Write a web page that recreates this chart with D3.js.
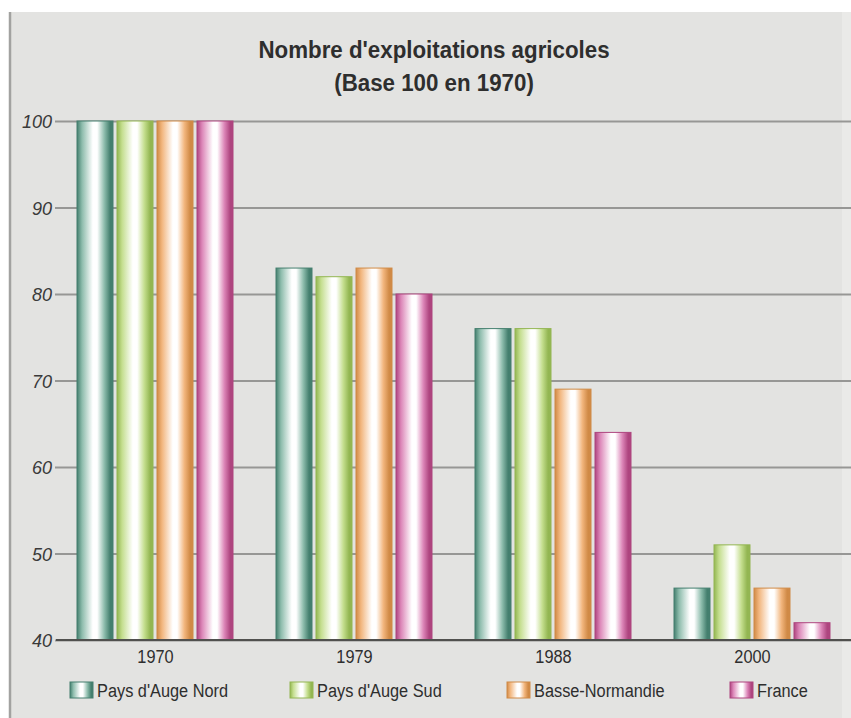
<!DOCTYPE html>
<html>
<head>
<meta charset="utf-8">
<script src="https://cdn.jsdelivr.net/npm/d3@7"></script>
<style>
  html, body { margin: 0; padding: 0; background: #ffffff; }
  svg { display: block; }
  text { font-family: "Liberation Sans", Arial, Helvetica, sans-serif; }
</style>
</head>
<body>
<svg id="chart" width="851" height="718"></svg>
<script>
// Nombre d'exploitations agricoles, base 100 en 1970
const years = ["1970", "1979", "1988", "2000"];
const seriesNames = ["Pays d'Auge Nord", "Pays d'Auge Sud", "Basse-Normandie", "France"];
const paysAugeNord = [100, 83, 76, 46];
const paysAugeSud = [100, 82, 76, 51];
const basseNormandie = [100, 83, 69, 46];
const france = [100, 80, 64, 42];
const yTicks = [40, 50, 60, 70, 80, 90, 100];

const seriesValues = [paysAugeNord, paysAugeSud, basseNormandie, france];
// dark edge / mid tone per series
const palette = [
  { dark: "#447f6e", mid: "#8dbcac" },
  { dark: "#93b652", mid: "#c4de8e" },
  { dark: "#d08a46", mid: "#f2b67e" },
  { dark: "#ae457f", mid: "#dc86b8" }
];

const svg = d3.select("#chart");
const W = 851, H = 718;
const textColor = "#2e2e2e";

// panel background with frame
svg.append("rect").attr("x", 9).attr("y", 12).attr("width", W - 9).attr("height", H - 12)
  .attr("fill", "#e3e3e1");
svg.append("rect").attr("x", 842).attr("y", 12).attr("width", W - 842).attr("height", H - 12)
  .attr("fill", "#eaeae8");
svg.append("line").attr("x1", 10).attr("x2", 10).attr("y1", 12).attr("y2", H)
  .attr("stroke", "#a2a2a0").attr("stroke-width", 2.5);

// cylinder-like horizontal gradients
const defs = svg.append("defs");
palette.forEach((c, i) => {
  const g = defs.append("linearGradient").attr("id", "grad" + i)
    .attr("x1", "0%").attr("x2", "100%").attr("y1", "0%").attr("y2", "0%");
  [[0, c.dark], [0.14, c.mid], [0.44, "#ffffff"], [0.56, "#ffffff"], [0.76, c.mid], [0.92, c.dark], [1, c.dark]]
    .forEach(([o, col]) => g.append("stop").attr("offset", o).attr("stop-color", col));
});

const y = d3.scaleLinear().domain([40, 100]).range([640, 121]);
const x0 = d3.scaleBand().domain(years).range([56, 852]).paddingInner(0).paddingOuter(0);
const x1 = d3.scaleBand().domain(d3.range(4)).range([21, 177]).paddingInner(0.1);

// title (slightly condensed)
const title = svg.append("g").attr("transform", "translate(434,0)");
[["Nombre d'exploitations agricoles", 58], ["(Base 100 en 1970)", 91]].forEach(([t, yy]) => {
  title.append("text").attr("transform", `translate(0,${yy}) scale(0.93,1)`)
    .attr("text-anchor", "middle").attr("font-size", 24).attr("font-weight", "bold")
    .attr("fill", textColor).text(t);
});

// grid lines and y labels
const yAxis = d3.axisLeft(y).tickValues(yTicks).tickSize(-(W - 56)).tickPadding(0);
const gy = svg.append("g").attr("transform", "translate(56,0)").call(yAxis);
gy.select(".domain").remove();
gy.selectAll(".tick line").attr("stroke", "#979795").attr("stroke-width", 1.8).attr("x1", -1);
gy.selectAll(".tick text").attr("font-size", 19).attr("font-style", "italic")
  .attr("fill", "#3a3a3a").attr("x", 0).attr("dy", "0.36em")
  .attr("transform", "translate(-4,0) scale(0.95,1)");

// bars
const groups = svg.selectAll("g.year").data(years).enter().append("g")
  .attr("class", "year").attr("transform", d => `translate(${x0(d)},0)`);
groups.selectAll("rect").data((d, yi) => seriesValues.map((s, si) => ({ si, v: s[yi] })))
  .enter().append("rect")
  .attr("x", d => x1(d.si)).attr("width", x1.bandwidth())
  .attr("y", d => y(d.v)).attr("height", d => y(40) - y(d.v))
  .attr("fill", d => `url(#grad${d.si})`)
  .attr("stroke", d => palette[d.si].dark).attr("stroke-width", 1);

// baseline
svg.append("line").attr("x1", 56).attr("x2", W).attr("y1", y(40)).attr("y2", y(40))
  .attr("stroke", "#50504e").attr("stroke-width", 1.8);

// category labels
const xAxis = d3.axisBottom(x0).tickSize(0).tickPadding(0);
const gx = svg.append("g").attr("transform", `translate(0,${y(40)})`).call(xAxis);
gx.select(".domain").remove();
gx.selectAll(".tick text").attr("font-size", 19).attr("fill", textColor)
  .attr("y", 0).attr("dy", 0).attr("transform", "translate(0,23) scale(0.86,1)");

// legend
const legendX = [70, 290, 507, 730];
const lg = svg.selectAll("g.leg").data(seriesNames).enter().append("g")
  .attr("class", "leg").attr("transform", (d, i) => `translate(${legendX[i]},682)`);
lg.append("rect").attr("width", 23).attr("height", 16)
  .attr("fill", (d, i) => `url(#grad${i})`).attr("stroke", (d, i) => palette[i].dark);
lg.append("text").attr("transform", "translate(27,15) scale(0.86,1)")
  .attr("font-size", 19).attr("fill", textColor).text(d => d);
</script>
</body>
</html>
